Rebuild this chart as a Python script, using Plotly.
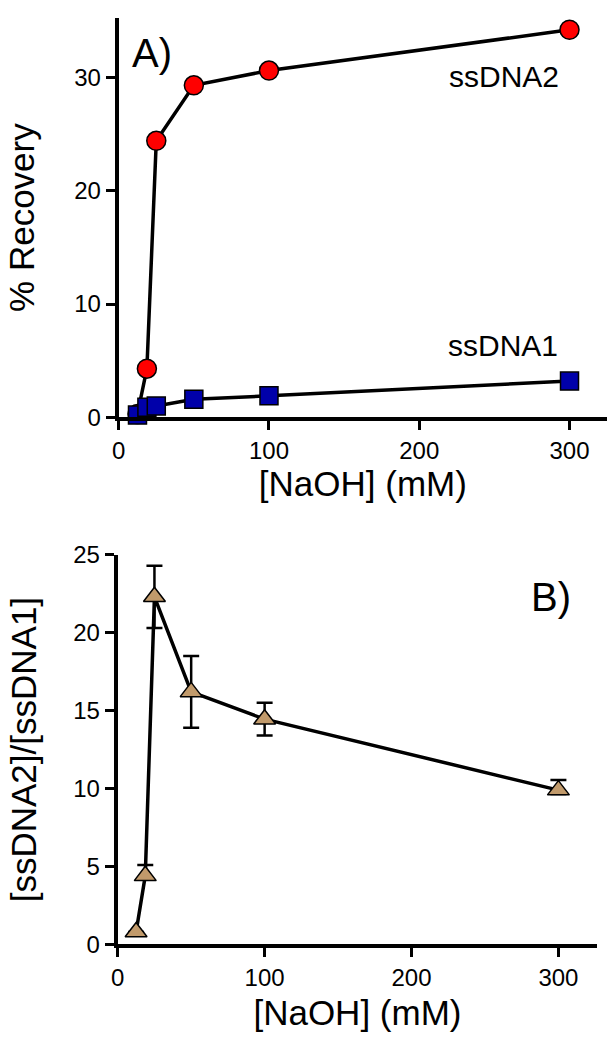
import plotly.graph_objects as go

# ---- data ----
naoh_mM = [12.5, 18.75, 25, 50, 100, 300]
ssdna2_recovery = [0.3, 4.3, 24.4, 29.3, 30.6, 34.2]
ssdna1_recovery = [0.2, 0.9, 1.0, 1.6, 1.9, 3.2]
ratio = [0.8, 4.4, 22.3, 16.2, 14.45, 9.9]
ratio_err_up = [0.0, 0.7, 2.0, 2.3, 1.05, 0.65]
ratio_err_down = [0.0, 0.25, 2.0, 2.3, 1.05, 0.25]
x_ticks = [0, 100, 200, 300]
yA_ticks = [0, 10, 20, 30]
yB_ticks = [0, 5, 10, 15, 20, 25]

W, H = 614, 1050
FONT = "Liberation Sans, Arial, sans-serif"

fig = go.Figure()

fig.add_trace(go.Scatter(
    x=naoh_mM, y=ssdna2_recovery, mode="lines+markers", name="ssDNA2",
    line=dict(color="black", width=3.5),
    marker=dict(symbol="circle", size=19, color="#ff0000", line=dict(color="black", width=1.5)),
    cliponaxis=False, xaxis="x", yaxis="y"))
fig.add_trace(go.Scatter(
    x=naoh_mM, y=ssdna1_recovery, mode="lines+markers", name="ssDNA1",
    line=dict(color="black", width=3.5),
    marker=dict(symbol="square", size=18, color="#0000aa", line=dict(color="black", width=1.5)),
    cliponaxis=False, xaxis="x", yaxis="y"))
fig.add_trace(go.Scatter(
    x=naoh_mM, y=ratio, mode="lines+markers", name="ratio",
    line=dict(color="black", width=3.5),
    error_y=dict(type="data", symmetric=False, array=ratio_err_up, arrayminus=ratio_err_down,
                 color="black", thickness=2.5, width=8),
    marker=dict(symbol="triangle-up", size=19, color="#c19a6b", line=dict(color="black", width=1.5)),
    cliponaxis=False, xaxis="x2", yaxis="y2"))

def px_x(p):
    return p / W

def px_y(p):
    return 1 - p / H

axis_common = dict(
    showline=True, linecolor="black", linewidth=4,
    ticks="outside", ticklen=9, tickwidth=3, tickcolor="black",
    showgrid=False, zeroline=False,
    tickfont=dict(family=FONT, size=24, color="black"),
)

fig.update_layout(
    width=W, height=H,
    margin=dict(l=0, r=0, t=0, b=0),
    paper_bgcolor="white", plot_bgcolor="white",
    showlegend=False,
    font=dict(family=FONT, color="black"),
    xaxis=dict(domain=[px_x(113), px_x(607)], range=[0, 325], tickvals=x_ticks,
               title=dict(text="[NaOH] (mM)", font=dict(size=35), standoff=9),
               anchor="y", **axis_common),
    yaxis=dict(domain=[px_y(414), px_y(4)], range=[0, 35.25], tickvals=yA_ticks,
               title=dict(text="% Recovery", font=dict(size=35), standoff=30),
               anchor="x", **axis_common),
    xaxis2=dict(domain=[px_x(112), px_x(597)], range=[0, 326.4], tickvals=x_ticks,
                title=dict(text="[NaOH] (mM)", font=dict(size=35), standoff=11),
                anchor="y2", **axis_common),
    yaxis2=dict(domain=[px_y(955), px_y(555)], range=[0, 25], tickvals=yB_ticks,
                title=dict(text="[ssDNA2]/[ssDNA1]", font=dict(size=35), standoff=27),
                anchor="x2", **axis_common),
)

fig.add_annotation(text="A)", x=px_x(147), y=px_y(40), xref="paper", yref="paper",
                   showarrow=False, font=dict(family=FONT, size=40, color="black"),
                   xanchor="center", yanchor="middle")
fig.add_annotation(text="ssDNA2", x=px_x(503), y=px_y(64), xref="paper", yref="paper",
                   showarrow=False, font=dict(family=FONT, size=30, color="black"),
                   xanchor="center", yanchor="middle")
fig.add_annotation(text="ssDNA1", x=px_x(502), y=px_y(340), xref="paper", yref="paper",
                   showarrow=False, font=dict(family=FONT, size=30, color="black"),
                   xanchor="center", yanchor="middle")
fig.add_annotation(text="B)", x=px_x(550), y=px_y(598), xref="paper", yref="paper",
                   showarrow=False, font=dict(family=FONT, size=40, color="black"),
                   xanchor="center", yanchor="middle")

fig.write_html("out.html", config={"displayModeBar": False},
               post_script="document.body.style.margin='0px';")
